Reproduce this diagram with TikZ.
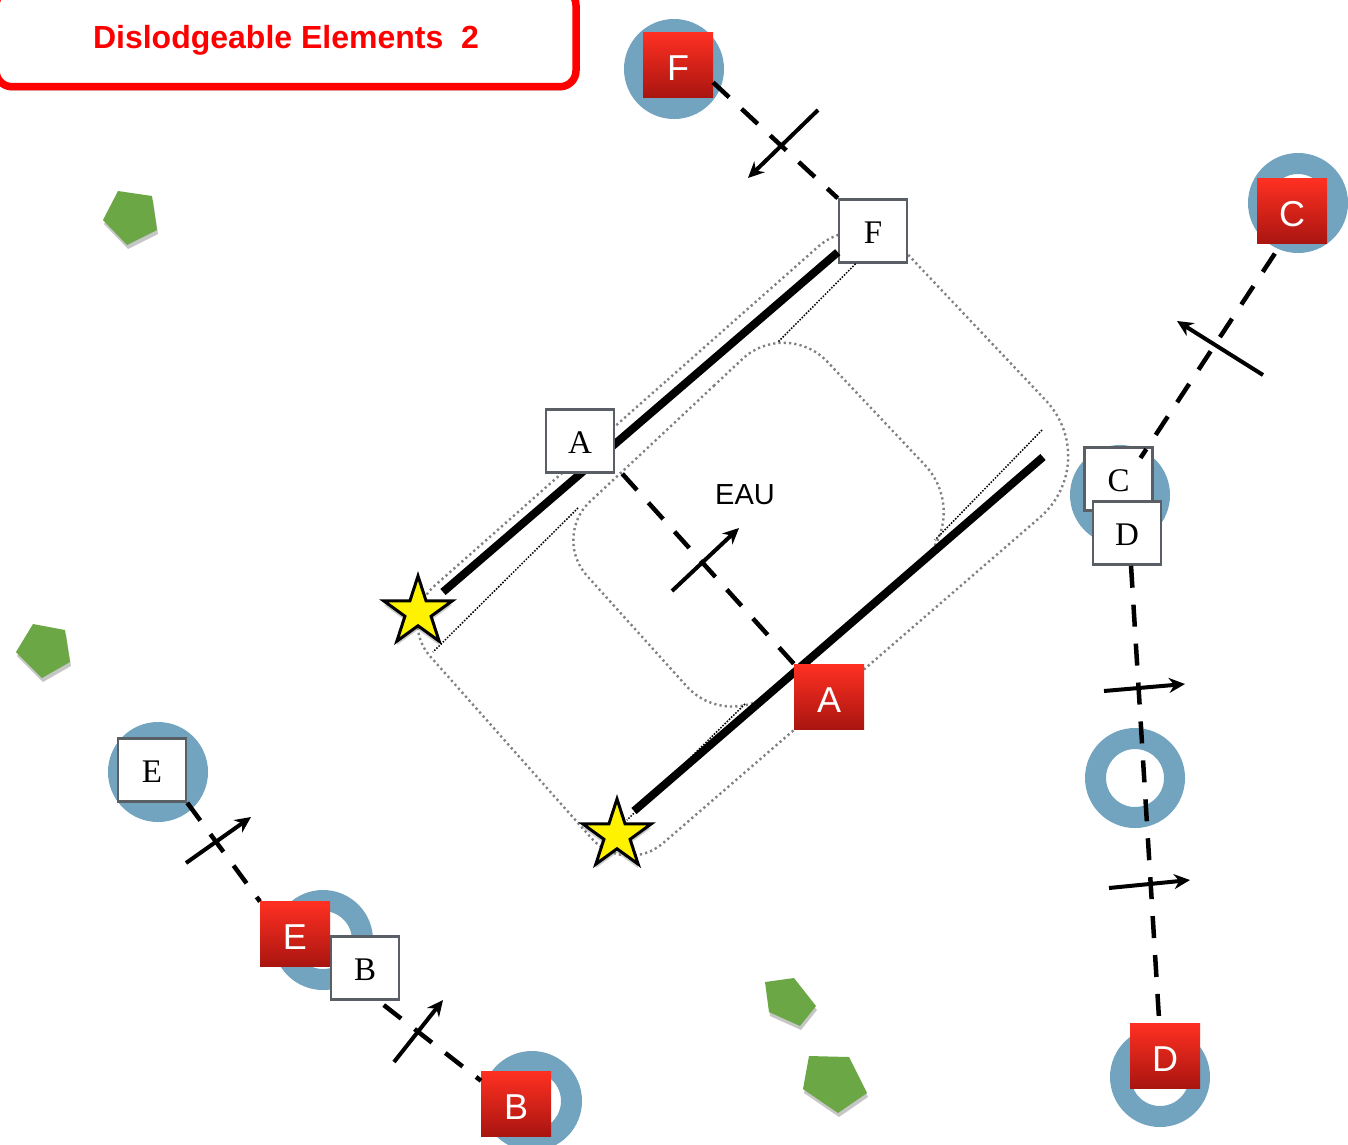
\documentclass[tikz,border=0pt]{standalone}
\usepackage{fontspec}
\setmainfont{Liberation Serif}
\newfontfamily\sansfont{Liberation Sans}
\usepackage{tikz}
\usetikzlibrary{arrows.meta,shadows,shapes.geometric}
\definecolor{ringblue}{HTML}{72A4BF}
\definecolor{boxgrey}{HTML}{5A5F66}
\definecolor{leafgreen}{HTML}{6BA845}
\definecolor{redtop}{HTML}{FF3022}
\definecolor{redbottom}{HTML}{A91510}
\def\boxfont{\fontsize{33}{33}\selectfont}
\def\markfont{\sansfont\fontsize{36}{36}\selectfont}
\tikzset{
	ring/.style={circle, draw=ringblue, line width=21pt, minimum size=79pt, inner sep=0pt},
	whitebox/.style={rectangle, draw=boxgrey, fill=white, line width=2.5pt, minimum width=68pt, minimum height=63pt, inner sep=0pt, text height=24pt, text depth=0pt, font=\boxfont},
	redbox/.style={rectangle, top color=redtop, bottom color=redbottom, minimum width=70pt, minimum height=65pt, inner sep=0pt, outer sep=0pt, text=white, text height=31pt, text depth=0pt, font=\markfont},
	starmark/.style={star, star points=5, star point ratio=2.618, minimum size=72pt, inner sep=0pt, draw=black, fill=yellow, line width=3pt, drop shadow={shadow xshift=0pt, shadow yshift=-4pt, opacity=0.4}},
	leaf/.style={fill=leafgreen, drop shadow={shadow xshift=1pt, shadow yshift=-4pt, opacity=0.45}},
	zone/.style={draw=black!50, line width=2.4pt, dash pattern=on 2.2pt off 3.1pt},
	thindots/.style={draw=black, line width=1.5pt, dash pattern=on 1.5pt off 1.5pt},
	rail/.style={line width=8pt},
	route/.style={line width=4.5pt, dash pattern=on 22pt off 17pt},
	flow/.style={line width=4pt, -{Stealth[length=16pt, width=15pt]}},
	titlebox/.style={rectangle, rounded corners=16pt, draw=red, fill=white, line width=7.5pt, minimum width=580pt, minimum height=97.4pt, drop shadow={shadow xshift=0pt, shadow yshift=-4pt, opacity=0.4}}
}
\begin{document}
\begin{tikzpicture}[x=1pt, y=-1pt]
	\useasboundingbox (0,0) rectangle (1348,1144);
	% title
	\node[titlebox] (title) at (286,38) {};
	\node[text=red, font=\sansfont\bfseries\fontsize{32}{32}\selectfont] (titletext) at (286,40) {Dislodgeable Elements~~2};
	% trees
	\fill[leaf] (118,191) -- (152,196) -- (157,230) -- (127,245) -- (103,220) -- cycle;
	\fill[leaf] (33,624) -- (65,630) -- (70,662) -- (42,678) -- (16,652) -- cycle;
	\fill[leaf] (765,982) -- (794,978) -- (816,1006) -- (800,1026) -- (769,1012) -- cycle;
	\fill[leaf] (809,1056) -- (849,1057) -- (867,1093) -- (838,1113) -- (803,1089) -- cycle;
	% zones
	\draw[zone, rounded corners=60pt] (670,427) -- (786,318) [rounded corners=72pt] -- (974,517) [rounded corners=60pt] -- (727,731) [rounded corners=52pt] -- (552,537) [rounded corners=60pt] -- cycle;
	\draw[zone, rounded corners=60pt] (630,413) -- (863,207) [rounded corners=85pt] -- (1104,462) [rounded corners=50pt] -- (625,876) -- (397,619) -- cycle;
	% rings
	\node[ring] (ringF) at (674,69) {};
	\node[ring] (ringC) at (1298,203) {};
	\node[ring] (ringCD) at (1120,495) {};
	\node[ring] (ringM) at (1135,778) {};
	\node[ring] (ringE) at (158,772) {};
	\node[ring] (ringEB) at (323,940) {};
	\node[ring] (ringB) at (532,1101) {};
	\node[ring] (ringD) at (1160,1077) {};
	% thin lines
	\node[whitebox] (boxF) at (873,231) {F};
	\coordinate (dotFa) at (778,342);
	\coordinate (dotCa) at (1042,430);
	\coordinate (dotCb) at (935,540);
	\coordinate (dotAa) at (578,508);
	\coordinate (dotAb) at (433,652);
	\coordinate (dotDa) at (745,704);
	\coordinate (dotDb) at (627,820);
	\draw[thindots] (boxF.-118) -- (dotFa);
	\draw[thindots] (dotCa) -- (dotCb);
	\draw[thindots] (dotAa) -- (dotAb);
	\draw[thindots] (dotDa) -- (dotDb);
	% stars and rails
	\node[starmark] (star1) at (418,612) {};
	\node[starmark] (star2) at (617,835) {};
	\coordinate (railend) at (1043,457);
	\draw[rail] ([xshift=25pt,yshift=20pt]star1.center) -- (boxF.211);
	\draw[rail] ([xshift=17pt,yshift=24pt]star2.center) -- (railend);
	% positions
	\node[whitebox] (boxA) at (580,441) {A};
	\node[whitebox] (boxC) at (1118.5,479) {C};
	\node[whitebox] (boxD) at (1127,533) {D};
	\node[whitebox] (boxE) at (152,770) {E};
	\node[whitebox] (boxB) at (365,968) {B};
	\node[redbox] (redF) at (678,64.5) {F};
	\node[redbox] (redC) at (1292,211) {C};
	\node[redbox] (redA) at (829,696.5) {A};
	\node[redbox] (redE) at (295,934) {E};
	\node[redbox] (redB) at (516,1103.5) {B};
	\node[redbox] (redD) at (1165,1055.5) {D};
	\node[font=\sansfont\fontsize{29}{29}\selectfont] (eau) at (745,495) {EAU};
	% routes
	\draw[route] (redF.-27) -- (boxF.north west);
	\draw[route, shorten <=12pt] (redC.252) -- ([xshift=22pt,yshift=21pt]boxC.center);
	\draw[route] ([xshift=7pt]boxA.south east) -- (redA.north west);
	\draw[route] (boxD.-83) -- (redD.100);
	\draw[route] (boxE.south east) -- (redE.north west);
	\draw[route, shorten <=7pt] (boxB.-68) -- (redB.147);
	% directions
	\coordinate (flowFa) at (818,110);
	\coordinate (flowFb) at (748,178);
	\coordinate (flowCa) at (1263,375);
	\coordinate (flowCb) at (1177,321);
	\coordinate (flowAa) at (672,591);
	\coordinate (flowAb) at (739,528);
	\coordinate (flowEa) at (186,863);
	\coordinate (flowEb) at (251,817);
	\coordinate (flowBa) at (394,1062);
	\coordinate (flowBb) at (443,1000);
	\coordinate (flowDa) at (1104,691);
	\coordinate (flowDb) at (1185,684);
	\coordinate (flowGa) at (1109,888);
	\coordinate (flowGb) at (1190,880);
	\draw[flow] (flowFa) -- (flowFb);
	\draw[flow] (flowCa) -- (flowCb);
	\draw[flow] (flowAa) -- (flowAb);
	\draw[flow] (flowEa) -- (flowEb);
	\draw[flow] (flowBa) -- (flowBb);
	\draw[flow] (flowDa) -- (flowDb);
	\draw[flow] (flowGa) -- (flowGb);
\end{tikzpicture}
\end{document}
